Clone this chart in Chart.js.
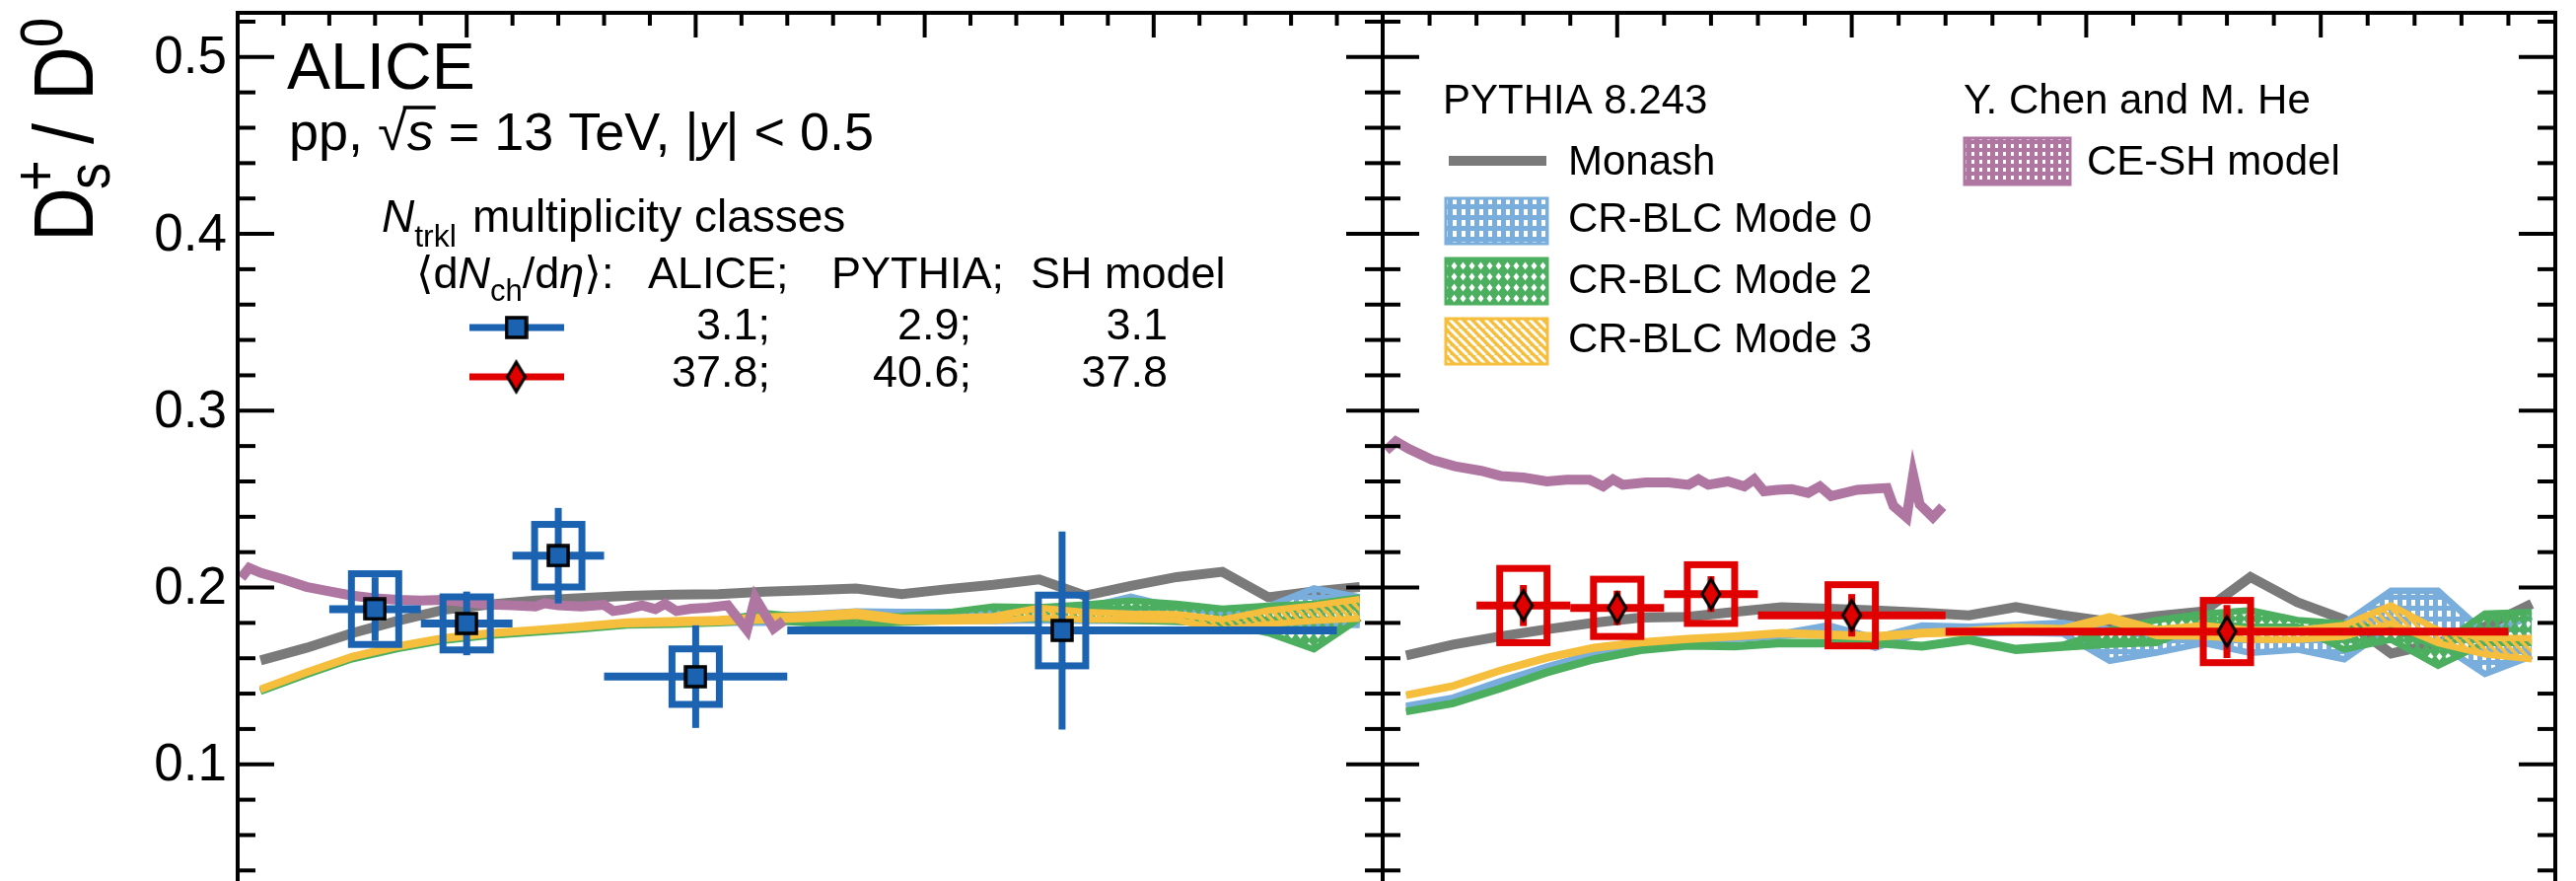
<!DOCTYPE html>
<html>
<head>
<meta charset="utf-8">
<script src="https://cdn.jsdelivr.net/npm/chart.js@4.4.1/dist/chart.umd.min.js"></script>
<style>
  html, body { margin: 0; padding: 0; background: #fff; width: 2612px; height: 893px; overflow: hidden; }
  canvas { position: absolute; top: 0; }
  #left { left: 0; }
  #right { left: 1380px; }
</style>
</head>
<body>
<canvas id="left" width="1420" height="1000"></canvas>
<canvas id="right" width="1232" height="1000"></canvas>
<script>
// ---------------- data ----------------
const yTickLabels = [0.1, 0.2, 0.3, 0.4, 0.5];

// ALICE, lowest multiplicity class (left panel)
const lowPt     = [3, 5, 7, 10, 18];
const lowPtMin  = [2, 4, 6, 8, 12];
const lowPtMax  = [4, 6, 8, 12, 24];
const lowRatio  = [0.1878, 0.1797, 0.2180, 0.1496, 0.1757];
const lowStat   = [0.018, 0.018, 0.027, 0.029, 0.056];
const lowSyst   = [0.020, 0.015, 0.0177, 0.0157, 0.020];

// ALICE, highest multiplicity class (right panel)
const highPt    = [3, 5, 7, 10, 18];
const highPtMin = [2, 4, 6, 8, 12];
const highPtMax = [4, 6, 8, 12, 24];
const highRatio = [0.1898, 0.1885, 0.1963, 0.1843, 0.1751];
const highStat  = [0.0116, 0.0097, 0.0101, 0.012, 0.015];
const highSyst  = [0.021, 0.0162, 0.0166, 0.0173, 0.0176];

// PYTHIA 8.243 predictions, 1 GeV/c bins
const modelPt = [0.5, 1.5, 2.5, 3.5, 4.5, 5.5, 6.5, 7.5, 8.5, 9.5, 10.5, 11.5, 12.5,
                 13.5, 14.5, 15.5, 16.5, 17.5, 18.5, 19.5, 20.5, 21.5, 22.5, 23.5, 24.5];

const monashLow = [0.1588, 0.1659, 0.1742, 0.1812, 0.1874, 0.1904, 0.1926, 0.1940, 0.1953, 0.1959, 0.1963, 0.1977, 0.1985,
                   0.1994, 0.1963, 0.1991, 0.2015, 0.2046, 0.1954, 0.2009, 0.2059, 0.2089, 0.1945, 0.1978, 0.2003];
const mode0LowLo = [0.1415, 0.1510, 0.1599, 0.1658, 0.1704, 0.1732, 0.1750, 0.1768, 0.1789, 0.1795, 0.1800, 0.1800, 0.1810,
                    0.1815, 0.1815, 0.1815, 0.1810, 0.1815, 0.1812, 0.1812, 0.1806, 0.1793, 0.1793, 0.1793, 0.1788];
const mode0LowHi = [0.1423, 0.1518, 0.1607, 0.1666, 0.1712, 0.1740, 0.1758, 0.1778, 0.1800, 0.1808, 0.1815, 0.1840, 0.1850,
                    0.1865, 0.1862, 0.1862, 0.1860, 0.1886, 0.1886, 0.1948, 0.1886, 0.1856, 0.1893, 0.1995, 0.1945];
const mode2LowLo = [0.1410, 0.1505, 0.1594, 0.1653, 0.1699, 0.1727, 0.1745, 0.1763, 0.1785, 0.1790, 0.1798, 0.1815, 0.1797,
                    0.1790, 0.1800, 0.1810, 0.1820, 0.1825, 0.1819, 0.1812, 0.1806, 0.1797, 0.1742, 0.1650, 0.1825];
const mode2LowHi = [0.1418, 0.1513, 0.1602, 0.1661, 0.1707, 0.1735, 0.1753, 0.1771, 0.1795, 0.1802, 0.1815, 0.1856, 0.1830,
                    0.1835, 0.1840, 0.1860, 0.1893, 0.1889, 0.1904, 0.1926, 0.1908, 0.1880, 0.1897, 0.1908, 0.1945];
const mode3LowLo = [0.1420, 0.1516, 0.1605, 0.1663, 0.1709, 0.1737, 0.1755, 0.1773, 0.1793, 0.1798, 0.1803, 0.1815, 0.1823,
                    0.1840, 0.1808, 0.1808, 0.1812, 0.1830, 0.1819, 0.1819, 0.1816, 0.1760, 0.1793, 0.1812, 0.1825];
const mode3LowHi = [0.1428, 0.1524, 0.1613, 0.1673, 0.1719, 0.1747, 0.1765, 0.1785, 0.1807, 0.1814, 0.1821, 0.1835, 0.1845,
                    0.1864, 0.1830, 0.1830, 0.1838, 0.1886, 0.1862, 0.1852, 0.1849, 0.1819, 0.1871, 0.1899, 0.1935];

const monashHigh = [0.1616, 0.1677, 0.1723, 0.1764, 0.1801, 0.1830, 0.1834, 0.1862, 0.1889, 0.1880, 0.1871, 0.1858, 0.1843,
                    0.1889, 0.1843, 0.1806, 0.1838, 0.1865, 0.2059, 0.1917, 0.1819, 0.1627, 0.1686, 0.1779, 0.1908];
const mode0HighLo = [0.1323, 0.1369, 0.1461, 0.1543, 0.1617, 0.1663, 0.1681, 0.1709, 0.1727, 0.1745, 0.1659, 0.1745, 0.1740,
                     0.1745, 0.1740, 0.1585, 0.1631, 0.1686, 0.1631, 0.1649, 0.1594, 0.1779, 0.1686, 0.1511, 0.1613];
const mode0HighHi = [0.1331, 0.1377, 0.1469, 0.1553, 0.1627, 0.1673, 0.1691, 0.1719, 0.1739, 0.1786, 0.1715, 0.1785, 0.1778,
                     0.1788, 0.1800, 0.1760, 0.1723, 0.1779, 0.1760, 0.1760, 0.1797, 0.1982, 0.1982, 0.1742, 0.1834];
const mode2HighLo = [0.1295, 0.1341, 0.1424, 0.1515, 0.1589, 0.1641, 0.1667, 0.1663, 0.1680, 0.1680, 0.1680, 0.1661, 0.1697,
                     0.1642, 0.1660, 0.1677, 0.1686, 0.1797, 0.1779, 0.1779, 0.1649, 0.1705, 0.1557, 0.1686, 0.1686];
const mode2HighHi = [0.1303, 0.1349, 0.1432, 0.1525, 0.1599, 0.1651, 0.1677, 0.1673, 0.1692, 0.1692, 0.1692, 0.1675, 0.1713,
                     0.1658, 0.1676, 0.1760, 0.1816, 0.1852, 0.1871, 0.1816, 0.1797, 0.1760, 0.1668, 0.1852, 0.1862];
const mode3HighLo = [0.1387, 0.1439, 0.1526, 0.1598, 0.1654, 0.1685, 0.1704, 0.1718, 0.1737, 0.1727, 0.1716, 0.1735, 0.1743,
                     0.1760, 0.1750, 0.1812, 0.1725, 0.1723, 0.1705, 0.1705, 0.1723, 0.1797, 0.1686, 0.1622, 0.1594];
const mode3HighHi = [0.1395, 0.1447, 0.1534, 0.1608, 0.1664, 0.1695, 0.1714, 0.1728, 0.1747, 0.1739, 0.1730, 0.1749, 0.1759,
                     0.1778, 0.1770, 0.1838, 0.1765, 0.1788, 0.1760, 0.1760, 0.1788, 0.1899, 0.1760, 0.1714, 0.1714];

// CE-SH model (Y. Chen and M. He)
const ceshLowPt  = [0.08, 0.25, 0.5, 1.0, 1.5, 2.0, 2.5, 3.0, 3.5, 4.0, 4.5, 5.0, 5.5, 6.0, 6.5, 6.7, 7.0, 7.5,
                    8.0, 8.2, 8.5, 8.83, 9.12, 9.33, 9.58, 9.9, 10.26, 10.7, 11.12, 11.3, 11.7, 11.92];
const ceshLowVal = [0.2055, 0.2111, 0.2083, 0.2046, 0.2004, 0.1978, 0.1954, 0.1939, 0.1930, 0.1926, 0.1930, 0.1917,
                    0.1904, 0.1899, 0.1893, 0.1911, 0.1899, 0.1893, 0.1902, 0.1867, 0.1878, 0.1899, 0.1878, 0.1908,
                    0.1867, 0.1880, 0.1886, 0.1899, 0.1760, 0.1941, 0.1769, 0.1812];
const ceshHighPt  = [0.07, 0.28, 0.56, 1.05, 1.54, 2.10, 2.52, 3.00, 3.50, 3.92, 4.41, 4.70, 4.91, 5.12, 5.61, 6.10,
                     6.52, 6.73, 6.94, 7.36, 7.71, 7.92, 8.13, 8.41, 8.72, 9.07, 9.32, 9.56, 10.12, 10.75, 10.89,
                     11.17, 11.31, 11.45, 11.73, 11.94];
const ceshHighVal = [0.2775, 0.2826, 0.2784, 0.2723, 0.2686, 0.2660, 0.2631, 0.2622, 0.2600, 0.2609, 0.2609, 0.2572,
                     0.2612, 0.2581, 0.2594, 0.2594, 0.2581, 0.2612, 0.2581, 0.2600, 0.2572, 0.2612, 0.2544, 0.2552,
                     0.2557, 0.2535, 0.2572, 0.2517, 0.2553, 0.2563, 0.2461, 0.2397, 0.2636, 0.2470, 0.2397, 0.2457];

// ---------------- style ----------------
const FONT = '"Liberation Sans", Arial, "DejaVu Sans", sans-serif';
const BLUE = '#1b63b0';
const RED = '#e00000';
const GRAY = '#7a7a7a';
const PURPLE = '#af76a2';
const LBLUE = '#78addc';
const GREEN = '#4baf5f';
const YELLOW = '#f5be3c';

// fill patterns: solid colour with transparent holes
function tile(w, h, color, cut) {
  const c = document.createElement('canvas');
  c.width = w; c.height = h;
  const g = c.getContext('2d');
  g.fillStyle = color;
  g.fillRect(0, 0, w, h);
  g.globalCompositeOperation = 'destination-out';
  cut(g);
  return document.createElement('canvas').getContext('2d').createPattern(c, 'repeat');
}
const patMode0 = tile(9, 11, LBLUE, g => g.fillRect(3, 3, 4, 6));
const patMode2 = tile(9, 11, GREEN, g => {
  g.beginPath(); g.moveTo(4.5, 1.5); g.lineTo(7.5, 5.5); g.lineTo(4.5, 9.5); g.lineTo(1.5, 5.5); g.closePath(); g.fill();
});
const patMode3 = tile(9, 9, YELLOW, g => {
  g.lineWidth = 3;
  for (const k of [-9, 0, 9]) { g.beginPath(); g.moveTo(k, 0); g.lineTo(k + 9, 9); g.stroke(); }
});
const patCESH = tile(8, 8, PURPLE, g => g.fillRect(3, 2, 3, 4));

// marker images
function squareMark() {
  const c = document.createElement('canvas'); c.width = 24; c.height = 24;
  const g = c.getContext('2d');
  g.fillStyle = BLUE; g.fillRect(2, 2, 20, 20);
  g.strokeStyle = '#000'; g.lineWidth = 3.5; g.strokeRect(2, 2, 20, 20);
  return c;
}
function diamondMark() {
  const c = document.createElement('canvas'); c.width = 26; c.height = 38;
  const g = c.getContext('2d');
  g.beginPath(); g.moveTo(13, 4); g.lineTo(22, 19); g.lineTo(13, 34); g.lineTo(4, 19); g.closePath();
  g.fillStyle = RED; g.fill();
  g.strokeStyle = '#000'; g.lineWidth = 3; g.stroke();
  return c;
}
const sqImg = squareMark();
const diaImg = diamondMark();

// ---------------- helpers ----------------
const xy = (xs, ys) => xs.map((x, i) => ({ x, y: ys[i] }));

function curve(data, color, width) {
  return { data, borderColor: color, borderWidth: width, pointRadius: 0, fill: false, tension: 0 };
}
function bandTop(data, color, pattern) {
  return { data, borderColor: color, borderWidth: 6.5, pointRadius: 0, fill: '-1', backgroundColor: pattern, tension: 0 };
}
function seg(ctx, x1, y1, x2, y2) {
  ctx.beginPath(); ctx.moveTo(x1, y1); ctx.lineTo(x2, y2); ctx.stroke();
}
function setFont(ctx, size, italic) {
  ctx.font = (italic ? 'italic ' : '') + size + 'px ' + FONT;
}
// draws text pieces one after another, returns the end x
function runs(ctx, x, y, parts) {
  for (const p of parts) {
    setFont(ctx, p.s, p.it);
    ctx.fillText(p.t, x, y + (p.dy || 0));
    x += ctx.measureText(p.t).width;
  }
  return x;
}

// stat error bars, bin widths and syst boxes behind the markers
const errorBars = {
  id: 'errorBars',
  beforeDatasetDraw(chart, args) {
    const ds = chart.data.datasets[args.index];
    if (!ds.errors) return;
    const e = ds.errors, ctx = chart.ctx, X = chart.scales.x, Y = chart.scales.y;
    ctx.save();
    ctx.strokeStyle = e.color;
    ctx.lineCap = 'butt';
    e.pt.forEach((pt, i) => {
      const px = X.getPixelForValue(pt);
      const py = Y.getPixelForValue(e.val[i]);
      const top = Y.getPixelForValue(e.val[i] + e.syst[i]);
      const bot = Y.getPixelForValue(e.val[i] - e.syst[i]);
      ctx.lineWidth = 7;
      ctx.strokeRect(px - 24, top, 48, bot - top);
      seg(ctx, px, Y.getPixelForValue(e.val[i] + e.stat[i]), px, Y.getPixelForValue(e.val[i] - e.stat[i]));
      ctx.lineWidth = 8;
      seg(ctx, X.getPixelForValue(e.lo[i]), py, X.getPixelForValue(e.hi[i]), py);
    });
    ctx.restore();
  }
};

// frame with inward ticks on all sides
const frame = {
  id: 'frame',
  afterDraw(chart) {
    const { ctx, chartArea: a } = chart;
    const X = chart.scales.x, Y = chart.scales.y;
    ctx.save();
    ctx.strokeStyle = '#000';
    ctx.lineWidth = 4;
    ctx.strokeRect(a.left, a.top, a.right - a.left, a.bottom - a.top);
    for (let i = 0; i <= 25; i++) {
      const x = X.getPixelForValue(i);
      seg(ctx, x, a.top, x, a.top + (i % 5 === 0 ? 25 : 13));
    }
    for (let k = 0; k <= 26; k++) {
      const y = Y.getPixelForValue(k * 0.02);
      const len = k % 5 === 0 ? 37 : 18;
      seg(ctx, a.left, y, a.left + len, y);
      seg(ctx, a.right, y, a.right - len, y);
    }
    ctx.restore();
  }
};

// y axis labels, title and the data legend of the left panel
const leftText = {
  id: 'leftText',
  afterDraw(chart) {
    const ctx = chart.ctx, Y = chart.scales.y, left = chart.chartArea.left;
    ctx.save();
    ctx.fillStyle = '#000';
    ctx.strokeStyle = '#000';

    setFont(ctx, 53);
    ctx.textAlign = 'right';
    ctx.textBaseline = 'middle';
    yTickLabels.forEach(v => ctx.fillText(v.toFixed(1), left - 11, Y.getPixelForValue(v) + 2));
    ctx.textAlign = 'left';
    ctx.textBaseline = 'alphabetic';

    // D_s^+ / D^0, written upwards with slightly taller glyphs
    ctx.save();
    ctx.translate(94, 245);
    ctx.rotate(-Math.PI / 2);
    ctx.scale(1, 1.12);
    setFont(ctx, 76); ctx.fillText('D', 0, 0);
    setFont(ctx, 54); ctx.fillText('s', 53, 15); ctx.fillText('+', 51, -34);
    setFont(ctx, 76); ctx.fillText('/', 99, 0); ctx.fillText('D', 143, 0);
    setFont(ctx, 54); ctx.fillText('0', 197, -28);
    ctx.restore();

    setFont(ctx, 66);
    ctx.fillText('ALICE', 291, 90);

    // pp, sqrt(s) = 13 TeV, |y| < 0.5
    let x = runs(ctx, 293, 152, [{ t: 'pp, ', s: 54 }, { t: '√', s: 54 }]);
    const sx = x - 4;
    x = runs(ctx, x, 152, [{ t: 's', s: 54, it: true }]);
    ctx.lineWidth = 3.5;
    seg(ctx, sx, 109, x + 2, 109);
    runs(ctx, x, 152, [{ t: ' = 13 TeV, |', s: 54 }, { t: 'y', s: 54, it: true }, { t: '| < 0.5', s: 54 }]);

    runs(ctx, 387, 235, [{ t: 'N', s: 46, it: true }, { t: 'trkl', s: 32, dy: 15 }]);
    setFont(ctx, 46);
    ctx.fillText('multiplicity classes', 479, 235);
    runs(ctx, 422, 292, [{ t: '⟨d', s: 45 }, { t: 'N', s: 45, it: true }, { t: 'ch', s: 31, dy: 13 },
                          { t: '/d', s: 45 }, { t: 'η', s: 45, it: true }, { t: '⟩:', s: 45 }]);
    setFont(ctx, 45);
    ctx.fillText('ALICE;', 657, 292);
    ctx.fillText('PYTHIA;', 843, 292);
    ctx.fillText('SH model', 1045, 292);

    ctx.textAlign = 'right';
    [['3.1;', '2.9;', '3.1'], ['37.8;', '40.6;', '37.8']].forEach((row, r) => {
      const by = 344 + r * 48;
      ctx.fillText(row[0], 781, by);
      ctx.fillText(row[1], 985, by);
      ctx.fillText(row[2], 1184, by);
    });

    ctx.lineWidth = 7;
    ctx.strokeStyle = BLUE; seg(ctx, 476, 332, 572, 332);
    ctx.drawImage(sqImg, 523.5 - 12, 332 - 12);
    ctx.strokeStyle = RED; seg(ctx, 476, 382, 572, 382);
    ctx.drawImage(diaImg, 523.5 - 13, 382 - 19);
    ctx.restore();
  }
};

// model legend of the right panel (canvas starts at page x = 1380)
const rightText = {
  id: 'rightText',
  afterDraw(chart) {
    const ctx = chart.ctx, ox = -1380;
    ctx.save();
    ctx.fillStyle = '#000';
    setFont(ctx, 42);
    ctx.fillText('PYTHIA 8.243', 1463 + ox, 115);
    ctx.fillText('Y. Chen and M. He', 1991 + ox, 115);

    ctx.strokeStyle = GRAY; ctx.lineWidth = 10;
    seg(ctx, 1469 + ox, 163, 1568 + ox, 163);
    ctx.fillText('Monash', 1590 + ox, 177);

    const box = (x, y, w, h, color, pat) => {
      ctx.fillStyle = pat; ctx.fillRect(x, y, w, h);
      ctx.strokeStyle = color; ctx.lineWidth = 3; ctx.strokeRect(x, y, w, h);
      ctx.fillStyle = '#000';
    };
    box(1466 + ox, 201, 103, 46, LBLUE, patMode0);
    ctx.fillText('CR-BLC Mode 0', 1590 + ox, 235);
    box(1466 + ox, 262, 103, 46, GREEN, patMode2);
    ctx.fillText('CR-BLC Mode 2', 1590 + ox, 297);
    box(1466 + ox, 323, 103, 46, YELLOW, patMode3);
    ctx.fillText('CR-BLC Mode 3', 1590 + ox, 357);
    box(1992 + ox, 140, 107, 47, PURPLE, patCESH);
    ctx.fillText('CE-SH model', 2116 + ox, 177);
    ctx.restore();
  }
};

function panel(id, padding, markers, models, extra) {
  const datasets = [
    markers,
    curve(xy(models.ceshPt, models.cesh), PURPLE, 10),
    curve(xy(modelPt, models.m3lo), YELLOW, 6.5),
    bandTop(xy(modelPt, models.m3hi), YELLOW, patMode3),
    curve(xy(modelPt, models.m2lo), GREEN, 6.5),
    bandTop(xy(modelPt, models.m2hi), GREEN, patMode2),
    curve(xy(modelPt, models.m0lo), LBLUE, 6.5),
    bandTop(xy(modelPt, models.m0hi), LBLUE, patMode0),
    curve(xy(modelPt, models.monash), GRAY, 10)
  ];
  return new Chart(document.getElementById(id), {
    type: 'line',
    data: { datasets },
    options: {
      responsive: false,
      animation: false,
      devicePixelRatio: 1,
      events: [],
      layout: { padding },
      scales: {
        x: { type: 'linear', min: 0, max: 25, display: false },
        y: { type: 'linear', min: 0, max: 0.525, display: false }
      },
      plugins: { legend: { display: false }, tooltip: { enabled: false } }
    },
    plugins: [errorBars, frame, extra]
  });
}

panel('left', { left: 241, right: 18, top: 5, bottom: 46 }, {
  data: xy(lowPt, lowRatio), showLine: false, pointStyle: sqImg, pointRadius: 12,
  errors: { color: BLUE, pt: lowPt, val: lowRatio, stat: lowStat, syst: lowSyst, lo: lowPtMin, hi: lowPtMax }
}, {
  ceshPt: ceshLowPt, cesh: ceshLowVal, monash: monashLow,
  m0lo: mode0LowLo, m0hi: mode0LowHi, m2lo: mode2LowLo, m2hi: mode2LowHi, m3lo: mode3LowLo, m3hi: mode3LowHi
}, leftText);

panel('right', { left: 22, right: 21, top: 5, bottom: 46 }, {
  data: xy(highPt, highRatio), showLine: false, pointStyle: diaImg, pointRadius: 12,
  errors: { color: RED, pt: highPt, val: highRatio, stat: highStat, syst: highSyst, lo: highPtMin, hi: highPtMax }
}, {
  ceshPt: ceshHighPt, cesh: ceshHighVal, monash: monashHigh,
  m0lo: mode0HighLo, m0hi: mode0HighHi, m2lo: mode2HighLo, m2hi: mode2HighHi, m3lo: mode3HighLo, m3hi: mode3HighHi
}, rightText);
</script>
</body>
</html>
